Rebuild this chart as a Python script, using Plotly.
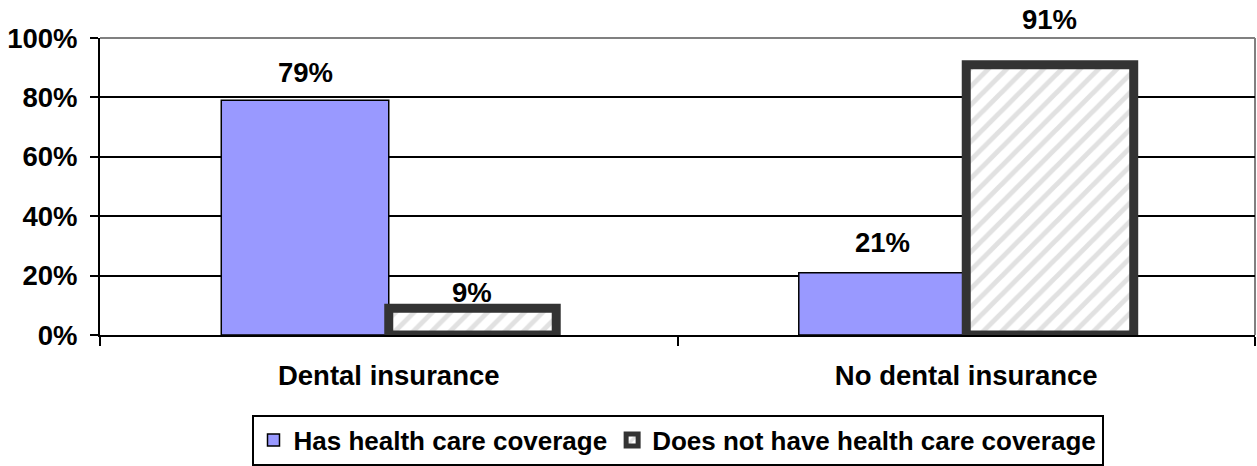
import plotly.graph_objects as go

categories = ["Dental insurance", "No dental insurance"]
series_names = ["Has health care coverage", "Does not have health care coverage"]
has_coverage = [79, 21]
no_coverage = [9, 91]
y_ticks = [0, 20, 40, 60, 80, 100]
y_tick_labels = ["0%", "20%", "40%", "60%", "80%", "100%"]

# label vertical offsets (px) to mimic the original label placement
label_shift_has = [28, 30]
label_shift_no = [16, 45]

FONT = "Liberation Sans, Arial, sans-serif"
FS = 27.5
BARGAP = 0.42

fig = go.Figure()
fig.add_trace(go.Bar(
    name=series_names[0], x=categories, y=has_coverage,
    marker=dict(color="#9999FF", line=dict(color="black", width=1.5)),
))
fig.add_trace(go.Bar(
    name=series_names[1], x=categories, y=no_coverage,
    marker=dict(color="white",
                line=dict(color="#333333", width=9),
                pattern=dict(shape="/", fgcolor="#c4c4c4", bgcolor="white",
                             size=13, solidity=0.38)),
))

half = (1 - BARGAP) / 2
for i, v in enumerate(has_coverage):
    fig.add_annotation(x=i - half / 2, y=v, xref="x", yref="y", text=f"{v}%",
                       showarrow=False, yshift=label_shift_has[i],
                       font=dict(family=FONT, size=FS, color="black", weight="bold"))
for i, v in enumerate(no_coverage):
    fig.add_annotation(x=i + half / 2, y=v, xref="x", yref="y", text=f"{v}%",
                       showarrow=False, yshift=label_shift_no[i],
                       font=dict(family=FONT, size=FS, color="black", weight="bold"))

# gray plot border (top and right)
fig.add_shape(type="line", xref="paper", yref="paper", x0=0, x1=1, y0=1, y1=1,
              line=dict(color="#808080", width=2), layer="between")
fig.add_shape(type="line", xref="paper", yref="paper", x0=1, x1=1, y0=0, y1=1,
              line=dict(color="#808080", width=2), layer="between")

fig.update_layout(
    width=1257, height=466,
    margin=dict(l=100, r=2, t=38, b=131, autoexpand=False),
    paper_bgcolor="white", plot_bgcolor="white",
    barmode="group", bargap=BARGAP, bargroupgap=0,
    font=dict(family=FONT, size=FS, color="black"),
    showlegend=True,
    legend=dict(orientation="h", x=0.5, xanchor="center", y=-0.268, yanchor="top",
                bordercolor="black", borderwidth=2, bgcolor="white",
                font=dict(family=FONT, size=26, color="black", weight="bold"),
                traceorder="normal", tracegroupgap=0, itemwidth=30),
    xaxis=dict(
        type="category", automargin=False, showline=True, linecolor="black", linewidth=2,
        ticks="outside", tickson="boundaries", ticklen=9, tickwidth=2, tickcolor="black",
        tickfont=dict(family=FONT, size=FS, color="black", weight="bold"),
        ticklabelstandoff=15, showgrid=False, zeroline=False,
    ),
    yaxis=dict(
        range=[0, 100], tickvals=y_ticks, ticktext=y_tick_labels, automargin=False,
        showline=True, linecolor="black", linewidth=2,
        ticks="outside", ticklen=8, tickwidth=2, tickcolor="black",
        tickfont=dict(family=FONT, size=FS, color="black", weight="bold"),
        ticklabelstandoff=7,
        showgrid=True, gridcolor="black", gridwidth=2, zeroline=False,
    ),
)

fig.write_html(
    "out.html",
    config={"displayModeBar": False},
    post_script="document.body.style.margin='0';document.body.style.overflow='hidden';",
)
